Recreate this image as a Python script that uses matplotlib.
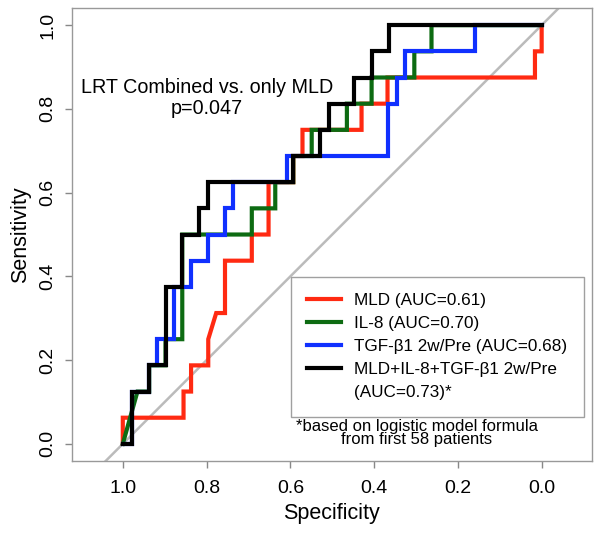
import matplotlib
matplotlib.use("Agg")
import matplotlib.pyplot as plt
from matplotlib.lines import Line2D

plt.rcParams["font.family"] = ["Liberation Sans", "DejaVu Sans"]

# ROC step curves (specificity, sensitivity)
mld_spec = [1.0, 1.0, 0.855, 0.855, 0.837, 0.837, 0.796, 0.796, 0.777, 0.756, 0.756, 0.692, 0.692,
            0.652, 0.652, 0.593, 0.593, 0.571, 0.571, 0.430, 0.430, 0.368, 0.368, 0.016, 0.016, 0.0, 0.0]
mld_sens = [0.0, 0.0625, 0.0625, 0.125, 0.125, 0.1875, 0.1875, 0.25, 0.3125, 0.3125, 0.4375, 0.4375, 0.5,
            0.5, 0.625, 0.625, 0.6875, 0.6875, 0.75, 0.75, 0.8125, 0.8125, 0.875, 0.875, 0.9375, 0.9375, 1.0]

il8_spec = [1.0, 0.965, 0.937, 0.937, 0.898, 0.898, 0.858, 0.858, 0.692, 0.692, 0.636, 0.636, 0.593,
            0.593, 0.549, 0.549, 0.465, 0.465, 0.406, 0.406, 0.304, 0.304, 0.263, 0.263, 0.0]
il8_sens = [0.0, 0.125, 0.125, 0.1875, 0.1875, 0.25, 0.25, 0.5, 0.5, 0.5625, 0.5625, 0.625, 0.625,
            0.6875, 0.6875, 0.75, 0.75, 0.8125, 0.8125, 0.875, 0.875, 0.9375, 0.9375, 1.0, 1.0]

tgf_spec = [1.0, 0.978, 0.978, 0.937, 0.937, 0.919, 0.919, 0.877, 0.877, 0.837, 0.837, 0.796, 0.796,
            0.756, 0.756, 0.736, 0.736, 0.609, 0.609, 0.366, 0.366, 0.346, 0.346, 0.326, 0.326, 0.159,
            0.159, 0.0]
tgf_sens = [0.0, 0.0, 0.125, 0.125, 0.1875, 0.1875, 0.25, 0.25, 0.375, 0.375, 0.4375, 0.4375, 0.5,
            0.5, 0.5625, 0.5625, 0.625, 0.625, 0.6875, 0.6875, 0.8125, 0.8125, 0.875, 0.875, 0.9375,
            0.9375, 1.0, 1.0]

comb_spec = [1.0, 0.978, 0.978, 0.937, 0.937, 0.898, 0.898, 0.858, 0.858, 0.817, 0.817, 0.797, 0.797,
             0.593, 0.593, 0.529, 0.529, 0.508, 0.508, 0.448, 0.448, 0.406, 0.406, 0.365, 0.365, 0.0]
comb_sens = [0.0, 0.0, 0.125, 0.125, 0.1875, 0.1875, 0.375, 0.375, 0.5, 0.5, 0.5625, 0.5625, 0.625,
             0.625, 0.6875, 0.6875, 0.75, 0.75, 0.8125, 0.8125, 0.875, 0.875, 0.9375, 0.9375, 1.0, 1.0]

labels = ["MLD (AUC=0.61)", "IL-8 (AUC=0.70)", "TGF-β1 2w/Pre (AUC=0.68)", "MLD+IL-8+TGF-β1 2w/Pre"]
label_extra = "(AUC=0.73)*"
colors = ["#ff2a12", "#0d6b12", "#1030ff", "#000000"]
ticks = [1.0, 0.8, 0.6, 0.4, 0.2, 0.0]

fig = plt.figure(figsize=(6.04, 5.33), dpi=100)
ax = fig.add_axes([0.1187, 0.135, 0.8613, 0.85])

ax.plot([1.2, -0.2], [-0.2, 1.2], color="#bbbbbb", lw=1.8, zorder=1)

curves = [(mld_spec, mld_sens), (il8_spec, il8_sens), (tgf_spec, tgf_sens), (comb_spec, comb_sens)]
for (sp, se), c in zip(curves, colors):
    ax.plot(sp, se, color=c, lw=3.0, solid_joinstyle="miter", zorder=2)

ax.set_xlim(1.122, -0.12)
ax.set_ylim(-0.041, 1.041)
ax.set_xticks(ticks)
ax.set_yticks(ticks)
ax.set_xticklabels([f"{t:.1f}" for t in ticks], fontsize=14)
ax.set_yticklabels([f"{t:.1f}" for t in ticks], fontsize=14, rotation=90, va="center")
ax.tick_params(length=5, width=1, color="#888888")
ax.tick_params(axis="x", pad=9)
ax.tick_params(axis="y", pad=6)
for s in ax.spines.values():
    s.set_color("#999999")
    s.set_linewidth(1)
ax.set_xlabel("Specificity", fontsize=15.5, labelpad=4)
ax.set_ylabel("Sensitivity", fontsize=15.5, labelpad=6)

ax.text(0.799, 0.852, "LRT Combined vs. only MLD", fontsize=14.2, ha="center", va="center")
ax.text(0.799, 0.802, "p=0.047", fontsize=14.2, ha="center", va="center")

handles = [Line2D([], [], color=c, lw=3) for c in colors]
handles.append(Line2D([], [], color="none"))
leg = ax.legend(handles, labels + [label_extra], loc="upper left",
                bbox_to_anchor=(0.4215, 0.406), fontsize=12.3, frameon=True, fancybox=False,
                edgecolor="#888888", handlelength=2.0, labelspacing=0.47, borderpad=0.95,
                handletextpad=0.75, borderaxespad=0)
leg.get_frame().set_linewidth(1)

ax.text(0.2976, 0.026, "*based on logistic model formula\nfrom first 58 patients", fontsize=12,
        ha="center", va="center", multialignment="center", linespacing=0.8)

fig.savefig("out.png", dpi=100)
